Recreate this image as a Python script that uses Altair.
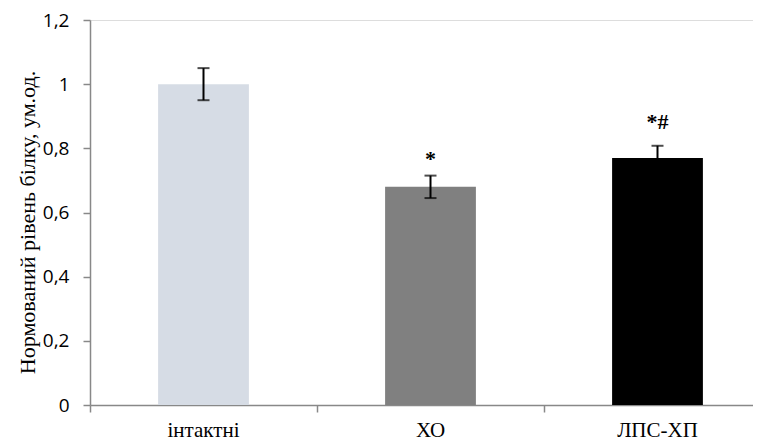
import altair as alt
import pandas as pd

groups = ["інтактні", "ХО", "ЛПС-ХП"]
means = [1.00, 0.68, 0.77]
errors = [0.05, 0.035, 0.038]
colors = ["#D6DCE5", "#808080", "#000000"]
marks = ["", "*", "*#"]
mark_y = [None, 0.767, 0.883]

df = pd.DataFrame({
    "group": groups,
    "mean": means,
    "lo": [m - e for m, e in zip(means, errors)],
    "hi": [m + e for m, e in zip(means, errors)],
    "color": colors,
})
ann = pd.DataFrame({"group": groups[1:], "label": marks[1:], "y": mark_y[1:]})

W = 663
xscale = alt.Scale(domain=groups, range=[0, 681], paddingInner=0.6, paddingOuter=0.3)
x = alt.X("group:N", sort=groups, scale=xscale, title=None,
          axis=alt.Axis(labelAngle=0, labelFont="Liberation Serif", labelFontSize=21,
                        labelColor="#000000", labelPadding=7, bandPosition=-0.75,
                        tickSize=7, tickColor="#888888", domainColor="#888888",
                        domainWidth=1.5, tickWidth=1.5))
yscale = alt.Scale(domain=[0, 1.2], nice=False, zero=True)
yaxis = alt.Axis(values=[0, 0.2, 0.4, 0.6, 0.8, 1.0, 1.2],
                 labelExpr="replace(format(datum.value, '~g'), '.', ',')",
                 labelFont="Open Sans", labelFontSize=19, labelColor="#000000",
                 labelPadding=14, tickSize=7, tickColor="#888888", tickWidth=1.5,
                 domainColor="#888888", domainWidth=1.5, grid=False,
                 title="Нормований рівень білку, ум.од.", titleFont="Liberation Serif",
                 titleFontSize=22, titleFontWeight="normal", titleColor="#000000",
                 titleX=-63, titleY=202, titleAngle=270, titleBaseline="middle",
                 titleAlign="center")

bars = alt.Chart(df).mark_bar().encode(
    x=x,
    y=alt.Y("mean:Q", scale=yscale, axis=yaxis),
    color=alt.Color("color:N", scale=None),
)
rules = alt.Chart(df).mark_rule(color="#000000", strokeWidth=2).encode(
    x=alt.X("group:N", sort=groups, scale=xscale),
    y=alt.Y("lo:Q", scale=yscale),
    y2="hi:Q",
)
caps_hi = alt.Chart(df).mark_tick(color="#000000", thickness=2, size=12, orient="horizontal").encode(
    x=alt.X("group:N", sort=groups, scale=xscale),
    y=alt.Y("hi:Q", scale=yscale),
)
caps_lo = alt.Chart(df).mark_tick(color="#000000", thickness=2, size=12, orient="horizontal").encode(
    x=alt.X("group:N", sort=groups, scale=xscale),
    y=alt.Y("lo:Q", scale=yscale),
)
text = alt.Chart(ann).mark_text(font="Liberation Serif", fontSize=22, fontWeight="bold",
                                color="#000000", baseline="middle").encode(
    x=alt.X("group:N", sort=groups, scale=xscale),
    y=alt.Y("y:Q", scale=yscale),
    text="label:N",
)

chart = alt.layer(bars, rules, caps_hi, caps_lo, text).properties(
    width=W, height=385,
    autosize=alt.AutoSizeParams(type="none"),
    padding={"left": 82, "top": 12, "right": 0, "bottom": 36},
).configure_view(stroke=None).configure(background="#FFFFFF")

chart.save("out.html", embed_options={"renderer": "svg", "actions": False})
